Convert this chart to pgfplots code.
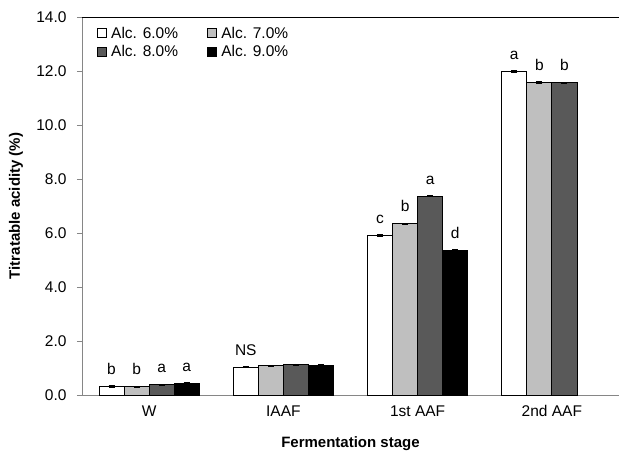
\documentclass[border=0pt]{standalone}
\usepackage{pgfplots}
\pgfplotsset{compat=1.18}
\usepackage{fontspec}
\setmainfont{Liberation Sans}
\definecolor{lg}{HTML}{BFBFBF}
\definecolor{dg}{HTML}{595959}
\definecolor{axc}{HTML}{868686}
\newcommand\fs{\fontsize{15.5}{17}\selectfont}
\newcommand\fl{\fontsize{15}{17}\selectfont}
\begin{document}
\begin{tikzpicture}
\path[use as bounding box] (-82pt,-56pt) rectangle (537pt,395pt);
\begin{axis}[
  at={(0pt,0pt)}, anchor=south west,
  scale only axis, width=537pt, height=378pt,
  xmin=-0.5, xmax=3.5, ymin=0, ymax=14,
  axis x line*=bottom, axis y line*=left,
  axis line style={axc, line width=0.8pt},
  ybar=0pt, bar width=0.1866,
  tick align=inside,
  ytick={0,2,...,14},
  yticklabel style={font=\fs, xshift=-12pt},
  ytick style={axc, line width=0.8pt, xshift=-5pt},
  major tick length=5pt,
  /pgf/number format/assume math mode=true,
  yticklabel={\pgfmathprintnumber[fixed,fixed zerofill,precision=1]{\tick}},
  xtick={0,1,2,3},
  xticklabels={W, IAAF, 1st AAF, 2nd AAF},
  xticklabel style={font=\fs, yshift=-7pt},
  xtick style={draw=none},
  minor xtick={0.5,1.5,2.5},
  minor x tick style={axc, line width=0.8pt},
  minor tick length=8pt,
  xlabel={\bfseries Fermentation stage},
  ylabel={\bfseries Titratable acidity (\%)},
  every axis x label/.style={at={([yshift=-49pt]axis description cs:0.5,0)}, anchor=center, font=\fl},
  every axis y label/.style={at={([xshift=-66pt]axis description cs:0,0.5)}, anchor=center, rotate=90, font=\fl},
  legend columns=2,
  legend style={at={(axis description cs:0.022,0.985)}, anchor=north west, draw=none, fill=none, font=\fs,
    /tikz/every even column/.append style={column sep=27pt}, row sep=2pt},
  legend image code/.code={\draw[#1, line width=0.6pt] (0pt,-4.5pt) rectangle (9pt,4.5pt);},
  nodes near coords,
  point meta=explicit symbolic,
  every node near coord/.append style={font=\fs, black, yshift=8pt},
  error bars/y dir=both, error bars/y explicit,
  error bars/error bar style={black, line width=0.8pt},
  error bars/error mark options={rotate=90, mark size=3pt, black, line width=0.8pt},
]
\draw[black, line width=1.2pt] (rel axis cs:0,1) -- (rel axis cs:1,1);
\addplot[fill=white, draw=black, line width=0.8pt] table[x=x, y=y, y error=e, meta=l] {
x y e l
0 0.33 0.03 b
1 1.04 0.01 NS
2 5.92 0.03 c
3 11.98 0.03 a
};
\addplot[fill=lg, draw=black, line width=0.8pt] table[x=x, y=y, y error=e, meta=l] {
x y e l
0 0.31 0.02 b
1 1.08 0.01 {}
2 6.35 0.02 b
3 11.58 0.03 b
};
\addplot[fill=dg, draw=black, line width=0.8pt] table[x=x, y=y, y error=e, meta=l] {
x y e l
0 0.38 0.02 a
1 1.13 0.02 {}
2 7.36 0.02 a
3 11.56 0.03 b
};
\addplot[fill=black, draw=black, line width=0.8pt] table[x=x, y=y, y error=e, meta=l] {
x y e l
0 0.44 0.02 a
1 1.11 0.02 {}
2 5.35 0.03 d
};
\legend{\,Alc. 6.0\%, \,Alc. 7.0\%, \,Alc. 8.0\%, \,Alc. 9.0\%}
\end{axis}
\end{tikzpicture}
\end{document}
